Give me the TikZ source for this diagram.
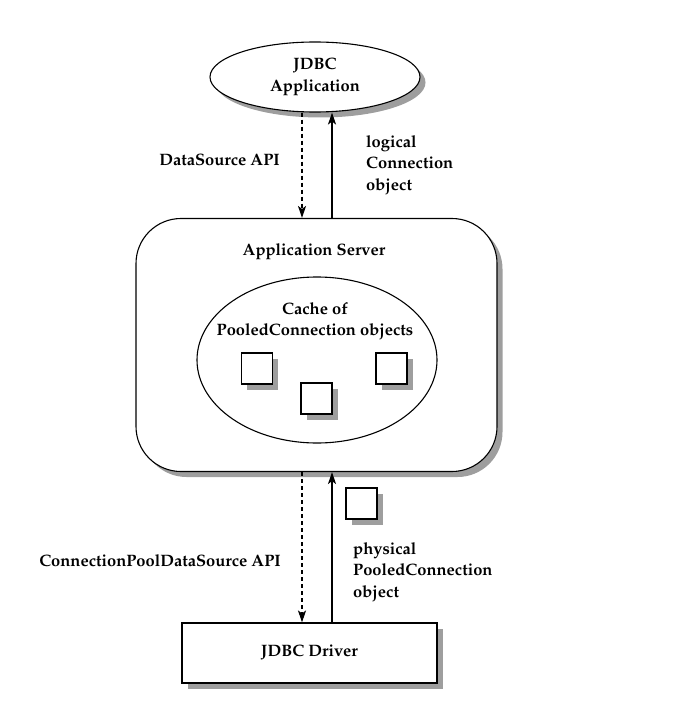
\documentclass[tikz,border=0pt]{standalone}
\usepackage[T1]{fontenc}
\renewcommand{\rmdefault}{ppl}
\usetikzlibrary{shapes.geometric,shadows,arrows.meta}
\tikzset{
  shad/.style={drop shadow={shadow xshift=5.5pt,shadow yshift=-5.5pt,fill=black!38,opacity=1}},
  txt/.style={font=\bfseries\fontsize{16.5}{21.5}\selectfont,align=left,inner sep=0pt},
  obj/.style={draw,fill=white,line width=1.1pt},
  sq/.style={obj,shad,minimum size=31pt,inner sep=0pt},
  conn/.style={line width=1.1pt,-{Stealth[length=12pt,width=8pt,inset=3pt]}},
  dconn/.style={conn,dash pattern=on 4pt off 3pt},
}
\begin{document}
\begin{tikzpicture}[x=1pt,y=-1pt]
\useasboundingbox (0,0) rectangle (680,719);
% top application
\node[obj,shad,ellipse,minimum width=210pt,minimum height=70pt,inner sep=0pt,txt,align=center] (app) at (315,77) {JDBC\\Application};
% application server
\node[obj,shad,rounded corners=45pt,minimum width=361pt,minimum height=253pt] (srv) at (316.5,345) {};
\node[txt] (srvlbl) at (314,252) {Application Server};
\node[obj,ellipse,minimum width=240pt,minimum height=166pt] (cache) at (317,360) {};
\node[txt,align=center] (cachelbl) at (315,321) {Cache of\\PooledConnection objects};
\node[sq] (s1) at (257,368.5) {};
\node[sq] (s2) at (316.5,398.5) {};
\node[sq] (s3) at (391.5,368.5) {};
% driver
\node[obj,shad,minimum width=255pt,minimum height=60pt,txt] (drv) at (309.5,653) {JDBC Driver};
\node[sq] (s4) at (361.5,503.5) {};
% connectors
\coordinate (dx1) at (302,0);
\coordinate (sx1) at (332,0);
\draw[dconn] (dx1 |- app.south) -- (dx1 |- srv.north);
\draw[conn] (sx1 |- srv.north) -- (sx1 |- app.south);
\draw[dconn] (dx1 |- srv.south) -- (dx1 |- drv.north);
\draw[conn] (sx1 |- drv.north) -- (sx1 |- srv.south);
% labels
\node[txt,anchor=east] (l1) at (280,160) {DataSource API};
\node[txt,anchor=west] (l2) at (366,165) {logical\\Connection\\object};
\node[txt,anchor=east] (l3) at (281,561) {ConnectionPoolDataSource API};
\node[txt,anchor=west] (l4) at (353,572) {physical\\PooledConnection\\object};
\end{tikzpicture}
\end{document}
